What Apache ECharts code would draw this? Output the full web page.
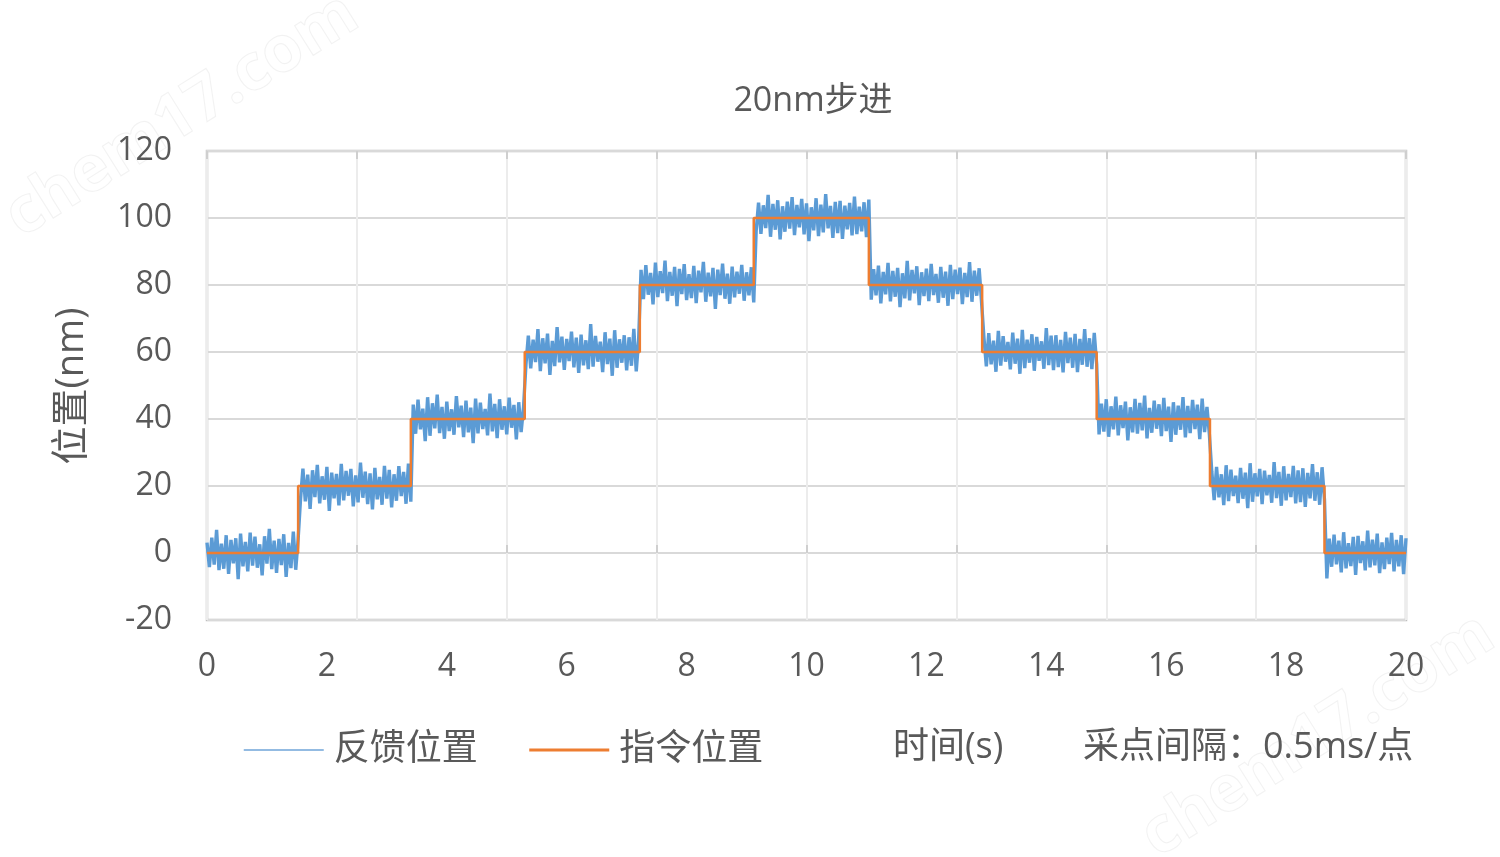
<!DOCTYPE html>
<html>
<head>
<meta charset="utf-8">
<script src="https://cdn.jsdelivr.net/npm/echarts@6/dist/echarts.min.js"></script>
<style>
html,body{margin:0;padding:0;background:#fff;}
#chart{width:1500px;height:857px;}
</style>
</head>
<body>
<div id="chart"></div>
<script>
// ---- data ----
const titleText = '20nm步进';
const yAxisName = '位置(nm)';
const seriesNames = ['反馈位置', '指令位置'];
const xAxisTitle = '时间(s)';
const sampleNote = '采点间隔：0.5ms/点';

// command (指令位置): step starts (s) and levels (nm)
const commandTimes  = [0, 1.52, 3.40, 5.30, 7.22, 9.12, 11.04, 12.93, 14.84, 16.73, 18.64, 20];
const commandLevels = [0, 20,   40,   60,   80,   100,  80,    60,    40,    20,    0,     0];

// feedback (反馈位置): values, one every 0.04 s from t = 0
const feedbackStep = 0.04;
const feedbackValues = [
  // 0 nm
  3.1,-4.2,4.6,-3.5,6.9,-5.1,2.8,-4.7,5.3,-6.2,3.9,-3.1,4.4,-7.8,5.8,-4.0,3.3,-5.5,6.1,-3.8,4.9,-4.4,2.6,-6.7,5.0,-3.2,7.2,-4.8,3.7,-5.9,4.2,-3.6,5.6,-7.1,3.0,-4.5,6.4,-5.0,4.1,
  // 20 nm
  16.1,25.2,15.4,23.4,13.2,24.7,16.7,26.3,14.8,22.9,15.9,25.7,12.6,24.0,16.3,23.6,14.2,26.6,15.7,24.5,17.1,25.1,13.9,23.2,15.1,27.0,16.5,24.3,14.6,23.8,13.0,25.4,16.0,22.7,14.4,26.0,16.2,24.8,13.6,23.5,15.6,25.9,17.0,24.2,14.7,26.7,15.3,
  // 40 nm
  44.3,35.6,45.8,36.9,43.1,33.4,46.5,35.0,44.7,37.2,47.3,35.8,43.6,34.1,45.2,36.4,42.9,35.3,46.8,37.5,44.0,34.6,45.5,36.0,43.4,32.8,46.1,35.7,44.9,37.0,43.0,35.1,47.6,36.3,44.5,34.3,45.9,36.8,43.8,35.4,46.4,37.4,44.2,33.9,45.0,36.1,43.5,
  // 60 nm
  56.2,64.9,55.1,63.7,57.0,66.8,54.3,64.1,56.6,65.5,53.2,63.3,55.8,67.4,56.9,64.6,54.7,63.9,57.3,66.1,55.4,64.3,53.8,65.2,56.0,63.5,54.9,68.3,55.6,64.8,57.1,63.1,54.0,65.9,56.4,64.0,52.9,66.5,55.3,63.8,56.8,65.0,54.5,64.4,55.9,66.9,54.2,63.6,
  // 80 nm
  84.5,75.8,85.9,77.1,83.6,74.2,86.7,76.4,84.1,77.6,87.3,75.2,83.9,76.8,85.4,73.7,84.8,77.3,86.2,75.5,83.2,76.1,85.7,74.6,84.3,77.8,86.9,75.0,83.7,76.6,85.1,72.9,84.6,77.0,86.4,75.9,83.4,74.4,85.5,76.3,84.0,77.4,86.0,75.3,83.8,76.9,85.3,74.8,
  // 100 nm
  96.1,104.6,95.3,103.8,97.0,106.9,94.4,104.2,96.5,105.3,93.6,103.5,95.9,104.9,96.8,106.2,94.9,103.9,97.2,105.7,95.1,104.4,93.1,103.2,96.3,105.9,94.6,104.0,95.7,107.1,96.9,103.6,94.1,104.8,95.5,105.1,93.8,103.7,96.6,104.5,94.8,106.4,95.2,103.4,96.0,104.7,94.3,105.5,
  // 80 nm
  75.6,84.7,76.9,85.8,74.5,83.9,77.2,86.6,75.1,84.2,76.5,85.1,73.4,83.5,76.0,87.2,75.4,84.5,77.5,85.6,74.0,83.8,76.7,84.9,75.2,86.3,77.0,83.3,74.7,85.4,76.2,84.0,73.8,86.0,75.8,84.6,77.3,85.2,74.3,83.6,76.4,86.8,75.0,84.3,76.8,85.0,74.9,
  // 60 nm
  64.2,55.7,65.6,56.3,63.4,54.1,66.3,55.9,64.7,57.1,63.0,54.8,65.8,56.5,64.0,53.5,66.6,55.2,63.7,56.8,65.3,54.4,64.5,57.4,63.2,55.0,67.1,56.1,64.9,54.6,65.0,55.5,63.6,53.9,66.0,56.7,64.3,55.3,65.4,54.0,63.9,56.2,66.8,55.6,64.1,54.9,65.7,56.4,
  // 40 nm
  35.4,44.6,36.2,45.9,34.7,43.8,36.9,46.7,35.1,44.1,37.3,45.2,33.6,43.5,36.0,46.0,35.6,44.8,36.6,47.0,34.2,43.3,35.9,45.5,37.1,44.4,34.9,46.3,36.4,43.7,33.2,45.0,35.3,44.0,36.8,46.5,34.5,43.9,35.8,45.7,37.0,44.3,34.0,46.1,36.1,43.6,35.5,
  // 20 nm
  24.4,15.8,25.7,16.6,23.5,14.3,26.2,15.5,24.9,17.0,23.1,14.9,25.4,16.2,24.0,13.4,26.8,15.3,23.8,16.9,25.1,14.6,24.6,17.2,23.3,15.0,27.1,16.4,24.2,14.1,25.9,15.7,23.6,16.7,26.0,14.8,24.7,15.2,25.3,13.8,23.9,16.3,26.5,15.6,24.1,14.4,25.6,16.0,
  // 0 nm
  -7.6,4.3,-4.1,5.5,-3.4,3.7,-5.8,6.2,-4.6,2.9,-3.9,4.8,-6.5,5.1,-3.0,3.5,-5.2,6.7,-4.3,4.0,-3.7,5.8,-6.0,3.2,-4.8,4.6,-3.3,6.0,-5.5,3.9,-4.0,5.3,-6.3,4.4
];

// axis ticks
const xMin = 0, xMax = 20, xLabelStep = 2, xGridStep = 2.5;
const yMin = -20, yMax = 120, yStep = 20;

// ---- build chart ----
const feedbackData = feedbackValues.map((v, i) => [+(i * feedbackStep).toFixed(2), v]);
const commandData = commandTimes.map((t, i) => [t, commandLevels[i]]);

const FONT = "'Open Sans','Noto Sans CJK SC',sans-serif";
const TXT = '#595959';
const BLUE = '#5B9BD5', ORANGE = '#ED7D31';
const gridBox = { left: 207, right: 94, top: 151, bottom: 237 };

const chart = echarts.init(document.getElementById('chart'), null, { renderer: 'canvas' });
chart.setOption({
  backgroundColor: '#ffffff',
  animation: false,
  title: {
    text: titleText,
    left: 808, top: 79, textAlign: 'center',
    textStyle: { color: TXT, fontSize: 34, fontWeight: 'normal', fontFamily: FONT }
  },
  legend: {
    data: [
      { name: seriesNames[0], lineStyle: { width: 1.5, color: '#6fa5d8' } },
      { name: seriesNames[1], lineStyle: { width: 3, color: ORANGE } }
    ],
    left: 243, top: 732, padding: 0,
    itemWidth: 80, itemHeight: 14, itemGap: 50,
    itemStyle: { opacity: 0, borderWidth: 0 },
    textStyle: { color: TXT, fontSize: 36, fontFamily: FONT, padding: [0, 0, 0, 5] }
  },
  grid: [
    Object.assign({ show: true, borderColor: '#bfbfbf', borderWidth: 2.5, backgroundColor: 'transparent' }, gridBox),
    Object.assign({ show: false }, gridBox)
  ],
  xAxis: [
    { // labels
      type: 'value', gridIndex: 0, position: 'bottom', min: xMin, max: xMax, interval: xLabelStep,
      axisLine: { show: false }, axisTick: { show: false }, splitLine: { show: false },
      axisLabel: { color: TXT, fontSize: 32, fontFamily: FONT, margin: 31 }
    },
    { // vertical grid + zero line with ticks (downward half)
      type: 'value', gridIndex: 0, position: 'top', min: xMin, max: xMax, interval: xGridStep,
      axisLine: { show: true, onZero: true, lineStyle: { color: '#d9d9d9', width: 2 } },
      axisTick: { show: true, inside: true, length: 8, lineStyle: { color: '#cfcfcf', width: 2 } },
      axisLabel: { show: false },
      splitLine: { show: true, lineStyle: { color: '#ececec', width: 2 } }
    },
    { // zero line ticks (upward half)
      type: 'value', gridIndex: 1, position: 'bottom', min: xMin, max: xMax, interval: xGridStep,
      axisLine: { show: false, onZero: true },
      axisTick: { show: true, inside: true, length: 8, lineStyle: { color: '#cfcfcf', width: 2 } },
      axisLabel: { show: false }, splitLine: { show: false }
    }
  ],
  yAxis: [
    {
      type: 'value', gridIndex: 0, min: yMin, max: yMax, interval: yStep,
      axisLine: { show: false }, axisTick: { show: false },
      axisLabel: { color: TXT, fontSize: 32, fontFamily: FONT, margin: 35 },
      splitLine: { show: true, lineStyle: { color: '#d9d9d9', width: 2 } }
    },
    { type: 'value', gridIndex: 1, min: yMin, max: yMax, interval: yStep, show: false }
  ],
  graphic: [
    { type: 'text', x: 72, y: 386, rotation: Math.PI / 2,
      style: { text: yAxisName, fill: TXT, font: '38px ' + FONT, textAlign: 'center', textVerticalAlign: 'middle' } },
    { type: 'text', x: 893, y: 748,
      style: { text: xAxisTitle, fill: TXT, font: '36px ' + FONT, textAlign: 'left', textVerticalAlign: 'middle' } },
    { type: 'text', x: 1083, y: 748,
      style: { text: sampleNote, fill: TXT, font: '36px ' + FONT, textAlign: 'left', textVerticalAlign: 'middle' } },
    { type: 'text', x: 182, y: 116, rotation: 0.56, z: -10,
      style: { text: 'chem17.com', fill: 'rgba(255,255,255,0)', stroke: 'rgba(0,0,0,0.05)', lineWidth: 1.2,
               font: 'bold 64px ' + FONT, textAlign: 'center', textVerticalAlign: 'middle' } },
    { type: 'text', x: 1318, y: 736, rotation: 0.56, z: -10,
      style: { text: 'chem17.com', fill: 'rgba(255,255,255,0)', stroke: 'rgba(0,0,0,0.05)', lineWidth: 1.2,
               font: 'bold 64px ' + FONT, textAlign: 'center', textVerticalAlign: 'middle' } }
  ],
  series: [
    {
      name: seriesNames[0], type: 'line', xAxisIndex: 0, yAxisIndex: 0,
      data: feedbackData, showSymbol: false, symbol: 'none', sampling: false,
      lineStyle: { color: BLUE, width: 3.4, join: 'bevel' }, itemStyle: { color: BLUE }, z: 3
    },
    {
      name: seriesNames[1], type: 'line', xAxisIndex: 0, yAxisIndex: 0,
      data: commandData, step: 'end', showSymbol: false, symbol: 'none',
      lineStyle: { color: ORANGE, width: 2.5 }, itemStyle: { color: ORANGE }, z: 4
    }
  ]
});
</script>
</body>
</html>
